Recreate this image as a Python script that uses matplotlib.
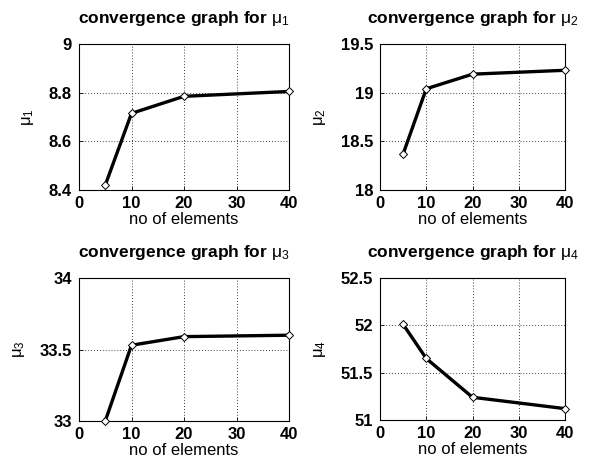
import numpy as np
import matplotlib
matplotlib.use("Agg")
import matplotlib.pyplot as plt

plt.rcParams['font.family'] = ['Liberation Sans', 'DejaVu Sans']
plt.rcParams['mathtext.fontset'] = 'custom'
plt.rcParams['mathtext.rm'] = 'Liberation Sans'
plt.rcParams['mathtext.it'] = 'Liberation Sans'

# data
n_elements = [5, 10, 20, 40]
mu1 = [8.42, 8.715, 8.785, 8.805]
mu2 = [18.37, 19.04, 19.19, 19.23]
mu3 = [33.0, 33.53, 33.59, 33.60]
mu4 = [52.01, 51.65, 51.24, 51.12]

xticks = [0, 10, 20, 30, 40]
yticks1 = [8.4, 8.6, 8.8, 9.0]
yticks2 = [18, 18.5, 19, 19.5]
yticks3 = [33, 33.5, 34]
yticks4 = [51, 51.5, 52, 52.5]
ylabels1 = ['8.4', '8.6', '8.8', '9']
ylabels2 = ['18', '18.5', '19', '19.5']
ylabels3 = ['33', '33.5', '34']
ylabels4 = ['51', '51.5', '52', '52.5']

W, H = 594, 468
fig = plt.figure(figsize=(W / 100, H / 100), dpi=100)

# axes boxes in pixels: left, top, right, bottom
boxes = [(79, 44, 289, 190), (380, 44, 565, 190),
         (79, 278, 289, 421), (380, 278, 565, 420)]
series = [mu1, mu2, mu3, mu4]
yt = [yticks1, yticks2, yticks3, yticks4]
yl = [ylabels1, ylabels2, ylabels3, ylabels4]

for i in range(4):
    l, t, r, b = boxes[i]
    ax = fig.add_axes([l / W, 1 - b / H, (r - l) / W, (b - t) / H])
    ax.plot(n_elements, series[i], color='black', lw=2.4, marker='D',
            markersize=4.5, markerfacecolor='white', markeredgecolor='black',
            markeredgewidth=0.7, clip_on=False, zorder=3)
    ax.set_xlim(0, 40)
    ax.set_ylim(yt[i][0], yt[i][-1])
    ax.set_xticks(xticks)
    ax.set_yticks(yt[i])
    ax.set_xticklabels([str(v) for v in xticks], fontsize=12, fontweight='bold')
    ax.set_yticklabels(yl[i], fontsize=12, fontweight='bold')
    ax.tick_params(direction='in', length=3, width=0.6)
    ax.tick_params(axis='x', pad=4)
    ax.tick_params(axis='y', pad=5)
    ax.grid(True, color='black', linestyle=(0, (1, 2.5)), linewidth=0.6)
    for s in ax.spines.values():
        s.set_linewidth(0.8)
    ax.set_xlabel('no of elements', fontsize=12, labelpad=1)
    ax.set_ylabel(r'$\mu_%d$' % (i + 1), fontsize=12, labelpad=9)
    ax.set_title(r'convergence graph for $\mu_%d$' % (i + 1), fontsize=12.5,
                 fontweight='bold', pad=15)

fig.savefig('out.png', dpi=100)
